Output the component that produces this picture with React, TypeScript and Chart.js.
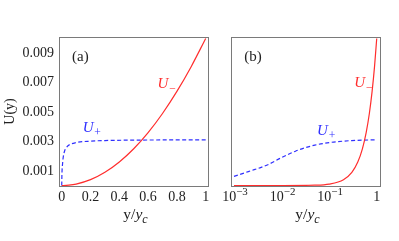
import React, { useEffect, useRef } from 'react';
import { Chart, registerables } from 'chart.js';

Chart.register(...registerables);

// ---- data ----
const xMinus = [0, 0.001, 0.01, 0.05, 0.1, 0.2, 0.3, 0.4, 0.5, 0.6, 0.7, 0.8, 0.9, 1.0];
const uMinus = [0, 0, 0.000001, 0.000025, 0.0001, 0.0004, 0.0009, 0.0016, 0.0025, 0.0036, 0.0049, 0.0064, 0.0081, 0.01];
const xPlus = [0, 0.001, 0.002, 0.005, 0.01, 0.02, 0.03, 0.05, 0.1, 0.2, 0.3, 0.5, 0.7, 1.0];
const uPlus = [0, 0.00062, 0.00095, 0.0014, 0.0019, 0.00235, 0.00255, 0.00275, 0.00292, 0.00302, 0.00306, 0.00309, 0.0031, 0.00311];
const yTicks = [0.001, 0.003, 0.005, 0.007, 0.009];
const yTickLabels = ['0.001', '0.003', '0.005', '0.007', '0.009'];
const xTicksLin = [0, 0.2, 0.4, 0.6, 0.8, 1];
const xTickLabelsLin = ['0', '0.2', '0.4', '0.6', '0.8', '1'];
const xTicksLog = [0.001, 0.01, 0.1, 1];
const xTickBaseLog = ['10', '10', '10', '1'];
const xTickExpLog = ['−3', '−2', '−1', ''];

const RED = '#ff2d2d';
const BLUE = '#2f2fff';
const TEXT = '#222222';
const FRAME = '#7a7a7a';
const SERIF = "'Liberation Serif', 'DejaVu Serif', serif";

type Seg = { t: string; italic?: boolean; sub?: boolean; sup?: boolean };
type Label = { segs: Seg[]; x: number; y: number; color: string; size: number };

function drawRich(ctx: CanvasRenderingContext2D, segs: Seg[], x: number, y: number, size: number, color: string, align: 'left' | 'center') {
  const fontOf = (s: Seg) => `${s.italic ? 'italic ' : ''}${s.sub || s.sup ? size * 0.78 : size}px ${SERIF}`;
  let total = 0;
  const widths = segs.map((s) => {
    ctx.font = fontOf(s);
    const w = ctx.measureText(s.t).width;
    total += w;
    return w;
  });
  let cx = align === 'center' ? x - total / 2 : x;
  ctx.fillStyle = color;
  ctx.textBaseline = 'alphabetic';
  ctx.textAlign = 'left';
  segs.forEach((s, i) => {
    ctx.font = fontOf(s);
    const dy = s.sub ? size * 0.26 : s.sup ? -size * 0.38 : 0;
    ctx.fillText(s.t, cx, y + dy);
    cx += widths[i];
  });
}

const framePlugin = {
  id: 'frame',
  afterDraw(chart: any) {
    const { ctx, chartArea: a } = chart;
    ctx.save();
    ctx.strokeStyle = FRAME;
    ctx.lineWidth = 1;
    ctx.strokeRect(a.left + 0.5, a.top + 0.5, a.right - a.left, a.bottom - a.top);
    ctx.restore();
  },
};

function annotPlugin(labels: Label[], logTicks: boolean) {
  return {
    id: 'annot',
    afterDraw(chart: any) {
      const { ctx, chartArea: a, scales } = chart;
      ctx.save();
      labels.forEach((l) => {
        const px = scales.x.getPixelForValue(l.x);
        const py = scales.y.getPixelForValue(l.y);
        drawRich(ctx, l.segs, px, py, l.size, l.color, 'left');
      });
      if (logTicks) {
        xTicksLog.forEach((v, i) => {
          const segs: Seg[] = [{ t: xTickBaseLog[i] }];
          if (xTickExpLog[i]) segs.push({ t: xTickExpLog[i], sup: true });
          drawRich(ctx, segs, scales.x.getPixelForValue(v) + (xTickExpLog[i] ? 1 : 0), a.bottom + 14.5, 14, TEXT, 'center');
        });
      }
      // x axis title y/y_c
      drawRich(
        ctx,
        [{ t: 'y/' }, { t: 'y', italic: true }, { t: 'c', italic: true, sub: true }],
        (a.left + a.right) / 2 + 2,
        a.bottom + 33,
        15.5,
        TEXT,
        'center'
      );
      ctx.restore();
    },
  };
}

const tickFont = { family: SERIF, size: 14 };

function makeConfig(panel: 'a' | 'b'): any {
  const isA = panel === 'a';
  const minusPts = xMinus
    .map((x, i) => ({ x, y: uMinus[i] }))
    .filter((p) => isA || p.x > 0);
  const plusPts = xPlus
    .map((x, i) => ({ x, y: uPlus[i] }))
    .filter((p) => isA || p.x > 0);
  const labels: Label[] = isA
    ? [
        { segs: [{ t: '(a)' }], x: 0.072, y: 0.0085, color: TEXT, size: 15 },
        { segs: [{ t: 'U', italic: true }, { t: '−', italic: true, sub: true }], x: 0.665, y: 0.00665, color: RED, size: 15 },
        { segs: [{ t: 'U', italic: true }, { t: '+', italic: true, sub: true }], x: 0.146, y: 0.00366, color: BLUE, size: 15 },
      ]
    : [
        { segs: [{ t: '(b)' }], x: 0.00164, y: 0.0085, color: TEXT, size: 15 },
        { segs: [{ t: 'U', italic: true }, { t: '−', italic: true, sub: true }], x: 0.336, y: 0.0067, color: RED, size: 15 },
        { segs: [{ t: 'U', italic: true }, { t: '+', italic: true, sub: true }], x: 0.0558, y: 0.00346, color: BLUE, size: 15 },
      ];
  return {
    type: 'line',
    data: {
      datasets: [
        {
          data: minusPts,
          borderColor: RED,
          borderWidth: 1.2,
          pointRadius: 0,
          fill: false,
          cubicInterpolationMode: 'monotone',
        },
        {
          data: plusPts,
          borderColor: BLUE,
          borderWidth: 1.2,
          borderDash: [4, 2.5],
          pointRadius: 0,
          fill: false,
          cubicInterpolationMode: 'monotone',
        },
      ],
    },
    options: {
      animation: false,
      responsive: false,
      devicePixelRatio: 1,
      layout: { padding: { left: 0, right: isA ? 7 : 19, top: 37, bottom: 0 } },
      plugins: { legend: { display: false }, tooltip: { enabled: false } },
      scales: {
        x: isA
          ? {
              type: 'linear',
              min: -0.019,
              max: 1.016,
              grid: { display: false, drawTicks: false },
              border: { display: false },
              afterBuildTicks: (s: any) => {
                s.ticks = xTicksLin.map((v) => ({ value: v }));
              },
              afterFit: (s: any) => {
                s.height = 55;
              },
              ticks: {
                padding: 3,
                maxRotation: 0,
                autoSkip: false,
                font: tickFont,
                color: TEXT,
                callback: (v: number) => xTickLabelsLin[xTicksLin.indexOf(v)] ?? '',
              },
            }
          : {
              type: 'logarithmic',
              min: 0.000865,
              max: 1.172,
              grid: { display: false, drawTicks: false },
              border: { display: false },
              afterBuildTicks: (s: any) => {
                s.ticks = xTicksLog.map((v) => ({ value: v }));
              },
              afterFit: (s: any) => {
                s.height = 55;
              },
              ticks: { display: false },
            },
        y: {
          type: 'linear',
          min: -0.00003,
          max: 0.0101,
          grid: { display: false, drawTicks: false },
          border: { display: false },
          afterBuildTicks: (s: any) => {
            s.ticks = yTicks.map((v) => ({ value: v }));
          },
          afterFit: (s: any) => {
            s.width = isA ? 59 : 16;
          },
          ticks: {
            display: isA,
            padding: 5,
            font: tickFont,
            color: TEXT,
            callback: (v: number) => yTickLabels[yTicks.indexOf(v)] ?? '',
          },
          title: {
            display: isA,
            text: 'U(y)',
            color: TEXT,
            font: { family: SERIF, size: 14 },
            padding: { top: 2, bottom: 0 },
          },
        },
      },
    },
    plugins: [framePlugin, annotPlugin(labels, !isA)],
  };
}

export default function App() {
  const refA = useRef<HTMLCanvasElement>(null);
  const refB = useRef<HTMLCanvasElement>(null);
  useEffect(() => {
    const ca = new Chart(refA.current as HTMLCanvasElement, makeConfig('a'));
    const cb = new Chart(refB.current as HTMLCanvasElement, makeConfig('b'));
    return () => {
      ca.destroy();
      cb.destroy();
    };
  }, []);
  return (
    <div style={{ position: 'fixed', left: 0, top: 0, width: 399, height: 241, background: '#fff' }}>
      <canvas ref={refA} width={215} height={241} style={{ position: 'absolute', left: 0, top: 0, width: 215, height: 241 }} />
      <canvas ref={refB} width={184} height={241} style={{ position: 'absolute', left: 215, top: 0, width: 184, height: 241 }} />
    </div>
  );
}
